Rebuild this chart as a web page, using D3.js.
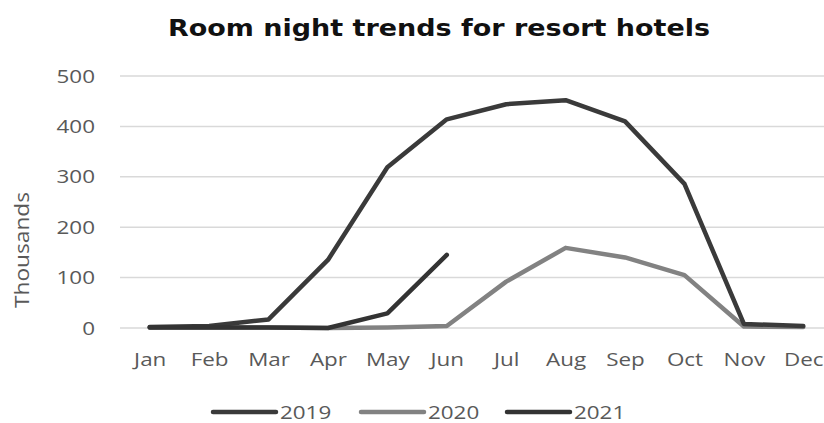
<!DOCTYPE html>
<html>
<head>
<meta charset="utf-8">
<script src="https://cdn.jsdelivr.net/npm/d3@7"></script>
<style>
  body { margin: 0; background: #fff; }
  svg { display: block; }
</style>
</head>
<body>
<div id="chart"></div>
<script>
(function () {
    var width = 824, height = 423;

    var months = ["Jan", "Feb", "Mar", "Apr", "May", "Jun", "Jul", "Aug", "Sep", "Oct", "Nov", "Dec"];
    var yTicks = [0, 100, 200, 300, 400, 500];

    // thousands of room nights
    var v2019 = [2, 4, 17, 135, 319, 414, 444, 452, 410, 286, 8, 4];
    var v2020 = [1, 1, 1, 0, 1, 4, 92, 159, 140, 105, 3, 2];
    var v2021 = [1, 1, 1, 0, 29, 145];

    var seriesNames = ["2019", "2020", "2021"];
    var seriesColors = ["#3a3a3a", "#828282", "#333333"];

    var series = [
        { name: seriesNames[0], values: v2019, color: seriesColors[0] },
        { name: seriesNames[1], values: v2020, color: seriesColors[1] },
        { name: seriesNames[2], values: v2021, color: seriesColors[2] }
    ];

    var margin = { left: 120, right: -9, top: 76, bottom: 95 };
    var stretch = "scale(1.18,1)";   // the reference text is drawn wide

    var svg = d3.select("#chart")
        .append("svg")
        .attr("width", width)
        .attr("height", height);

    var x = d3.scalePoint()
        .domain(months)
        .range([margin.left, width - margin.right])
        .padding(0.5);

    var y = d3.scaleLinear()
        .domain([0, 500])
        .range([height - margin.bottom, margin.top]);

    // title
    svg.append("text")
        .attr("x", 439)
        .attr("y", 36)
        .attr("text-anchor", "middle")
        .attr("font-family", "DejaVu Sans")
        .attr("font-weight", "bold")
        .attr("font-size", 23)
        .attr("textLength", 542)
        .attr("lengthAdjust", "spacingAndGlyphs")
        .attr("fill", "#111")
        .text("Room night trends for resort hotels");

    // gridlines
    svg.append("g")
        .selectAll("line")
        .data(yTicks)
        .enter().append("line")
        .attr("x1", margin.left)
        .attr("x2", width)
        .attr("y1", function (d) { return y(d); })
        .attr("y2", function (d) { return y(d); })
        .attr("stroke", "#d9d9d9")
        .attr("stroke-width", 1.5);

    // y axis
    var yAxis = svg.append("g")
        .attr("transform", "translate(" + 95 + ",0)")
        .call(d3.axisLeft(y).tickValues(yTicks).tickSize(0).tickPadding(0));
    yAxis.select(".domain").remove();
    yAxis.selectAll("text")
        .attr("font-family", "Open Sans")
        .attr("font-size", 19)
        .attr("fill", "#595959")
        .attr("transform", stretch);

    // x axis
    var xAxis = svg.append("g")
        .attr("transform", "translate(0," + (height - margin.bottom) + ")")
        .call(d3.axisBottom(x).tickSize(0).tickPadding(25));
    xAxis.select(".domain").remove();
    xAxis.selectAll("text")
        .attr("font-family", "Open Sans")
        .attr("font-size", 19)
        .attr("fill", "#595959")
        .attr("transform", stretch);

    // y label
    svg.append("text")
        .attr("transform", "translate(29,250) rotate(-90)")
        .attr("text-anchor", "middle")
        .attr("font-family", "Open Sans")
        .attr("font-size", 20)
        .attr("textLength", 116)
        .attr("lengthAdjust", "spacingAndGlyphs")
        .attr("fill", "#595959")
        .text("Thousands");

    var line = d3.line()
        .x(function (d, i) { return x(months[i]); })
        .y(function (d) { return y(d); });

    // draw 2020 first so darker lines sit on top
    [1, 0, 2].forEach(function (k) {
        var s = series[k];
        svg.append("path")
            .datum(s.values)
            .attr("d", line)
            .attr("fill", "none")
            .attr("stroke", s.color)
            .attr("stroke-width", 4.5)
            .attr("stroke-linejoin", "round")
            .attr("stroke-linecap", "round");
    });

    // legend
    var legendX = [213, 361, 507];
    var legend = svg.append("g")
        .selectAll("g")
        .data(series)
        .enter().append("g")
        .attr("transform", function (d, i) { return "translate(" + legendX[i] + ",412)"; });

    legend.append("line")
        .attr("x1", 0)
        .attr("x2", 63)
        .attr("stroke", function (d) { return d.color; })
        .attr("stroke-width", 4.5)
        .attr("stroke-linecap", "round");

    legend.append("text")
        .attr("transform", "translate(67,7) " + stretch)
        .attr("font-family", "Open Sans")
        .attr("font-size", 19)
        .attr("fill", "#595959")
        .text(function (d) { return d.name; });
})();
</script>
</body>
</html>
